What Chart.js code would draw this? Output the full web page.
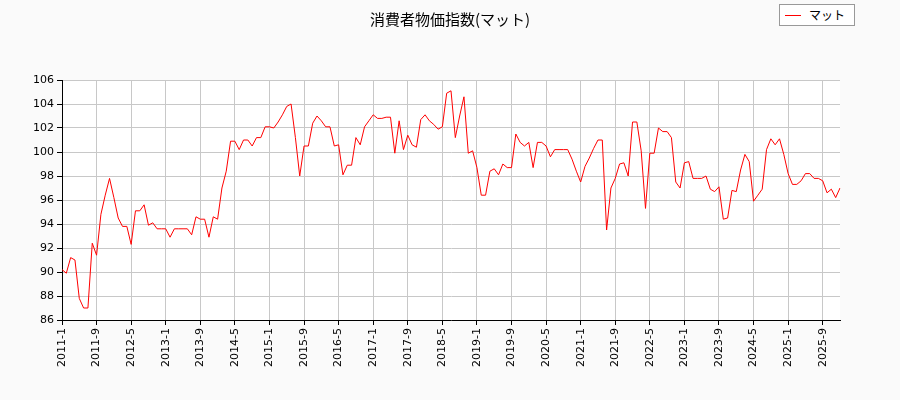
<!DOCTYPE html>
<html>
<head>
<meta charset="utf-8">
<script src="https://cdn.jsdelivr.net/npm/chart.js@4"></script>
<style>
  body { margin: 0; background: #fafafa; font-family: "DejaVu Sans", sans-serif; }
  #wrap { position: relative; width: 900px; height: 400px; }
  #title { position: absolute; top: 8px; left: 0; width: 900px; text-align: center; font-size: 15px; color: #000; font-family: "Noto Sans CJK JP", sans-serif; }
  #legend { position: absolute; top: 4px; left: 779px; width: 74px; height: 20px; border: 1px solid #999; background: #fff; font-size: 12px; font-family: "Noto Sans CJK JP", sans-serif; line-height: 20px; }
  #legend span.l { display: inline-block; width: 16px; height: 0; border-top: 1px solid red; vertical-align: middle; margin: 0 8px 2px 5px; }
</style>
</head>
<body>
<div id="wrap">
  <canvas id="c" width="900" height="400"></canvas>
  <div id="title">消費者物価指数(マット)</div>
  <div id="legend"><span class="l"></span>マット</div>
</div>
<script>
const seriesName = 'マット';
const startYear = 2011;
const values = [
  90.2, 89.9, 91.2, 91.0, 87.8, 87.0, 87.0, 92.4, 91.4, 94.8, 96.4, 97.8,
  96.2, 94.5, 93.8, 93.8, 92.3, 95.1, 95.1, 95.6, 93.9, 94.1, 93.6, 93.6,
  93.6, 92.9, 93.6, 93.6, 93.6, 93.6, 93.1, 94.6, 94.4, 94.4, 92.9, 94.6,
  94.4, 97.0, 98.4, 100.9, 100.9, 100.2, 101.0, 101.0, 100.5, 101.2, 101.2, 102.1,
  102.1, 102.0, 102.5, 103.1, 103.8, 104.0, 101.2, 98.0, 100.5, 100.5, 102.4, 103.0,
  102.6, 102.1, 102.1, 100.5, 100.6, 98.1, 98.9, 98.9, 101.2, 100.6, 102.1, 102.6,
  103.1, 102.8, 102.8, 102.9, 102.9, 99.9, 102.6, 100.2, 101.4, 100.6, 100.4, 102.7,
  103.1, 102.6, 102.3, 101.9, 102.1, 104.9, 105.1, 101.2, 103.0, 104.6, 99.9, 100.1,
  98.7, 96.4, 96.4, 98.4, 98.6, 98.1, 99.0, 98.7, 98.7, 101.5, 100.8, 100.5,
  100.8, 98.7, 100.8, 100.8, 100.5, 99.6, 100.2, 100.2, 100.2, 100.2, 99.4, 98.4,
  97.5, 98.8, 99.5, 100.3, 101.0, 101.0, 93.5, 97.0, 97.8, 99.0, 99.1, 98.0,
  102.5, 102.5, 100.1, 95.3, 99.9, 99.9, 102.0, 101.7, 101.7, 101.2, 97.5, 97.0,
  99.1, 99.2, 97.8, 97.8, 97.8, 98.0, 96.9, 96.7, 97.1, 94.4, 94.5, 96.8,
  96.7, 98.5, 99.8, 99.2, 95.9, 96.4, 96.9, 100.2, 101.1, 100.6, 101.1, 99.8,
  98.2, 97.3, 97.3, 97.6, 98.2, 98.2, 97.8, 97.8, 97.6, 96.6, 96.9, 96.2,
  97.0
];
const labels = values.map((v, i) => (startYear + Math.floor(i / 12)) + '-' + (i % 12 + 1));
const yMin = 86, yMax = 106, yStep = 2;
const labelEvery = 8;

const areaBg = {
  id: 'areaBg',
  beforeDraw(chart) {
    const { ctx, chartArea: a } = chart;
    ctx.save();
    ctx.fillStyle = '#ffffff';
    ctx.fillRect(a.left, a.top, a.right - a.left, a.bottom - a.top);
    ctx.restore();
  }
};

new Chart(document.getElementById('c'), {
  type: 'line',
  data: {
    labels: labels,
    datasets: [{
      label: seriesName,
      data: values,
      borderColor: '#ff0000',
      borderWidth: 1,
      pointRadius: 0,
      tension: 0,
      fill: false
    }]
  },
  options: {
    responsive: false,
    animation: false,
    layout: { padding: { top: 80, right: 60, left: 0, bottom: 0 } },
    plugins: { legend: { display: false }, tooltip: { enabled: false } },
    scales: {
      x: {
        offset: false,
        afterFit: s => { s.height = 80; },
        border: { color: '#000' },
        grid: {
          color: c => (c.index % labelEvery === 0 ? '#c8c8c8' : 'transparent'),
          tickColor: c => (c.index % labelEvery === 0 ? '#000' : 'transparent'),
          tickLength: 5
        },
        ticks: {
          autoSkip: false,
          maxRotation: 90,
          minRotation: 90,
          color: '#000',
          font: { size: 11, family: 'DejaVu Sans' },
          callback: (v, i) => (i % labelEvery === 0 ? labels[i] : '')
        }
      },
      y: {
        min: yMin,
        max: yMax,
        afterFit: s => { s.width = 62; },
        border: { color: '#000' },
        grid: { color: '#c8c8c8', tickColor: '#000', tickLength: 5 },
        ticks: { stepSize: yStep, color: '#000', font: { size: 11, family: 'DejaVu Sans' } }
      }
    }
  },
  plugins: [areaBg]
});
</script>
</body>
</html>
